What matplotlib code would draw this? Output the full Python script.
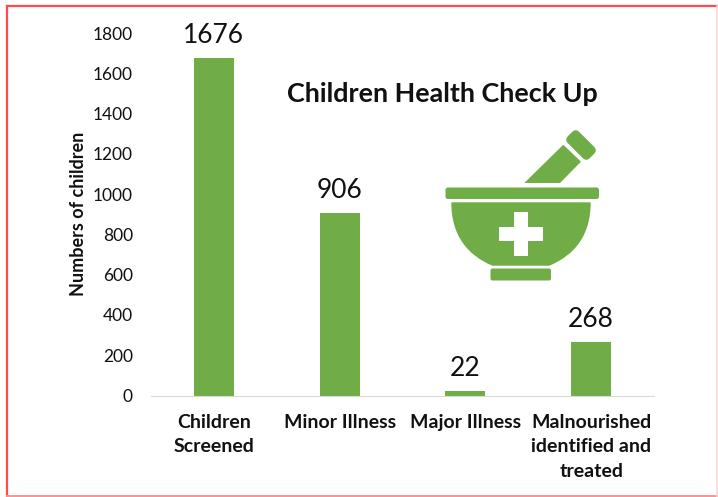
import matplotlib
matplotlib.use('Agg')
import matplotlib.pyplot as plt
from matplotlib.patches import Rectangle, Polygon, FancyBboxPatch, PathPatch
from matplotlib.path import Path
from matplotlib.transforms import Affine2D

categories = ['Children\nScreened', 'Minor Illness', 'Major Illness', 'Malnourished\nidentified and\ntreated']
values = [1676, 906, 22, 268]
y_ticks = [0, 200, 400, 600, 800, 1000, 1200, 1400, 1600, 1800]

GREEN = '#70AD47'
W, H = 718, 497

plt.rcParams['font.family'] = ['Lato', 'DejaVu Sans']

fig = plt.figure(figsize=(W / 100, H / 100), dpi=100)
ax = fig.add_axes([151 / W, 1 - 395.5 / H, 503 / W, 362.5 / H])

bars = ax.bar(range(len(values)), values, width=0.318, color=GREEN)
ax.bar_label(bars, labels=[str(v) for v in values], fontsize=19, padding=7, color='#111111')
ax.set_xlim(-0.5, 3.5)
ax.set_ylim(0, 1800)
ax.set_yticks(y_ticks)
ax.set_xticks(range(len(categories)))
ax.set_xticklabels(categories, fontsize=14, fontweight='bold', color='#111111', linespacing=1.55)
ax.tick_params(axis='y', length=0, labelsize=12.5, pad=13, labelcolor='#111111')
ax.tick_params(axis='x', length=0, pad=13)
ax.set_ylabel('Numbers of children', fontsize=13, fontweight='bold', color='#111111', labelpad=4.5)
for side in ['top', 'right', 'left']:
    ax.spines[side].set_visible(False)
ax.spines['bottom'].set_color('#D9D9D9')

# overlay in pixel coords for border, title and icon
ov = fig.add_axes([0, 0, 1, 1], facecolor='none')
ov.set_xlim(0, W)
ov.set_ylim(H, 0)
ov.axis('off')

# border is strong on left/top, fades on bottom and right
ov.plot([6.5, 6.5], [5.5, 496], color='#FF4B4B', lw=1.6)
ov.plot([6.5, 717], [5.5, 5.5], color='#FF4B4B', lw=1.6)
ov.plot([6.5, 717], [496, 496], color='#FF9090', lw=1.4)
ov.plot([716.7, 716.7], [5.5, 496], color='#FFD5D5', lw=1.2)
ov.set_xlim(0, W)
ov.set_ylim(H, 0)

ov.text(442.5, 94.5, 'Children Health Check Up', fontsize=19.4, fontweight='bold',
        color='#111111', ha='center', va='center')

# mortar rim, foot
ov.add_patch(FancyBboxPatch((447, 189), 150.5, 8.5, boxstyle='round,pad=1.5,rounding_size=2.5', fc=GREEN, ec='none'))
ov.add_patch(FancyBboxPatch((492, 270), 57.5, 9, boxstyle='round,pad=1.5,rounding_size=2', fc=GREEN, ec='none'))
# bowl
bowl = Path([(451.3, 202.3), (590.7, 202.3), (590.7, 235), (575, 255), (549.3, 265.7),
             (492.3, 265.7), (467, 255), (451.3, 235), (451.3, 202.3), (451.3, 202.3)],
            [Path.MOVETO, Path.LINETO, Path.CURVE4, Path.CURVE4, Path.CURVE4,
             Path.LINETO, Path.CURVE4, Path.CURVE4, Path.CURVE4, Path.CLOSEPOLY])
ov.add_patch(PathPatch(bowl, fc=GREEN, ec='none'))
# cross
ov.add_patch(Rectangle((499, 227), 43.7, 14.3, fc='white', ec='none'))
ov.add_patch(Rectangle((513.7, 212.3), 14.6, 43.4, fc='white', ec='none'))
# pestle
ov.add_patch(Polygon([(524.3, 183), (560, 183), (581, 161.7), (563.3, 144.7)], fc=GREEN, ec='none'))
head = FancyBboxPatch((-15.5, -8), 31, 16, boxstyle='round,pad=0,rounding_size=5', fc=GREEN, ec='none')
head.set_transform(Affine2D().rotate_deg(45).translate(581, 145) + ov.transData)
ov.add_patch(head)

fig.savefig('out.png', dpi=100)
